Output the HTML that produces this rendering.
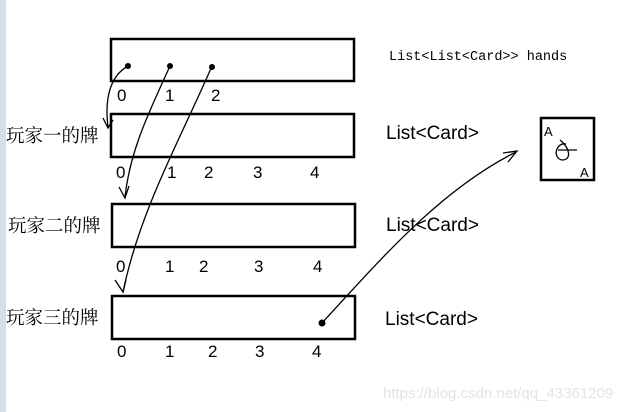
<!DOCTYPE html>
<html><head><meta charset="utf-8"><style>
body{margin:0;width:627px;height:412px;background:#fff;overflow:hidden}
</style></head><body>
<svg width="627" height="412" xmlns="http://www.w3.org/2000/svg" style="display:block">
<rect x="0" y="0" width="6" height="412" fill="#d6dde9"/>
<g fill="none" stroke="#000" stroke-width="2.5">
<rect x="111" y="39" width="243" height="42"/>
<rect x="111" y="114" width="243" height="43"/>
<rect x="112" y="204" width="243" height="43"/>
<rect x="112" y="296" width="243" height="43"/>
<rect x="541" y="118" width="53" height="62"/>
</g>
<g fill="none" stroke="#000" stroke-width="1.3">
<path d="M128 66 C112 75 104 95 108 127"/>
<path d="M103 118 L108 128 L113 120"/>
<path d="M170 66 C150 110 130 150 125 197"/>
<path d="M119 187 L125 198 L129 186"/>
<path d="M212 66 C180 140 140 210 123 292"/>
<path d="M115 280 L123 292 L126 280"/>
<path d="M322 323 C380 260 440 190 516 152"/>
<path d="M503 153 L517 151 L508 162"/>
<path d="M560 140 C570 148 572 160 562 160 C552 158 556 142 566 144 M558 150 L577 150"/>
</g>
<g fill="#000">
<circle cx="128" cy="66" r="3"/><circle cx="170" cy="66" r="3"/><circle cx="212" cy="67" r="3"/>
<circle cx="322" cy="323" r="3.5"/>
</g>
<g font-family="'Liberation Serif','Noto Serif CJK SC',serif" font-size="18.5" fill="#000">
<text x="6" y="142">玩家一的牌</text>
<text x="8" y="232">玩家二的牌</text>
<text x="6" y="324">玩家三的牌</text>
</g>
<text x="389" y="60" font-family="'Liberation Mono',monospace" font-size="13.5">List&lt;List&lt;Card&gt;&gt; hands</text>
<g font-family="'Liberation Sans',sans-serif" font-size="19">
<text x="386" y="139">List&lt;Card&gt;</text>
<text x="386" y="231">List&lt;Card&gt;</text>
<text x="385" y="325">List&lt;Card&gt;</text>
</g>
<g font-family="'Liberation Sans',sans-serif" font-size="17" fill="#000">
<text x="117" y="101">0</text><text x="165" y="101">1</text><text x="211" y="101">2</text>
<text x="116" y="178">0</text><text x="167" y="178">1</text><text x="204" y="178">2</text><text x="253" y="178">3</text><text x="310" y="178">4</text>
<text x="116" y="272">0</text><text x="165" y="272">1</text><text x="199" y="272">2</text><text x="254" y="272">3</text><text x="313" y="272">4</text>
<text x="117" y="357">0</text><text x="165" y="357">1</text><text x="208" y="357">2</text><text x="255" y="357">3</text><text x="312" y="357">4</text>
<text x="544" y="136" font-size="13">A</text><text x="580" y="177" font-size="13">A</text>
</g>
<text x="383" y="398" font-family="'Liberation Sans',sans-serif" font-size="15" fill="#e3e3e3">https://blog.csdn.net/qq_43361209</text>
</svg>
</body></html>
